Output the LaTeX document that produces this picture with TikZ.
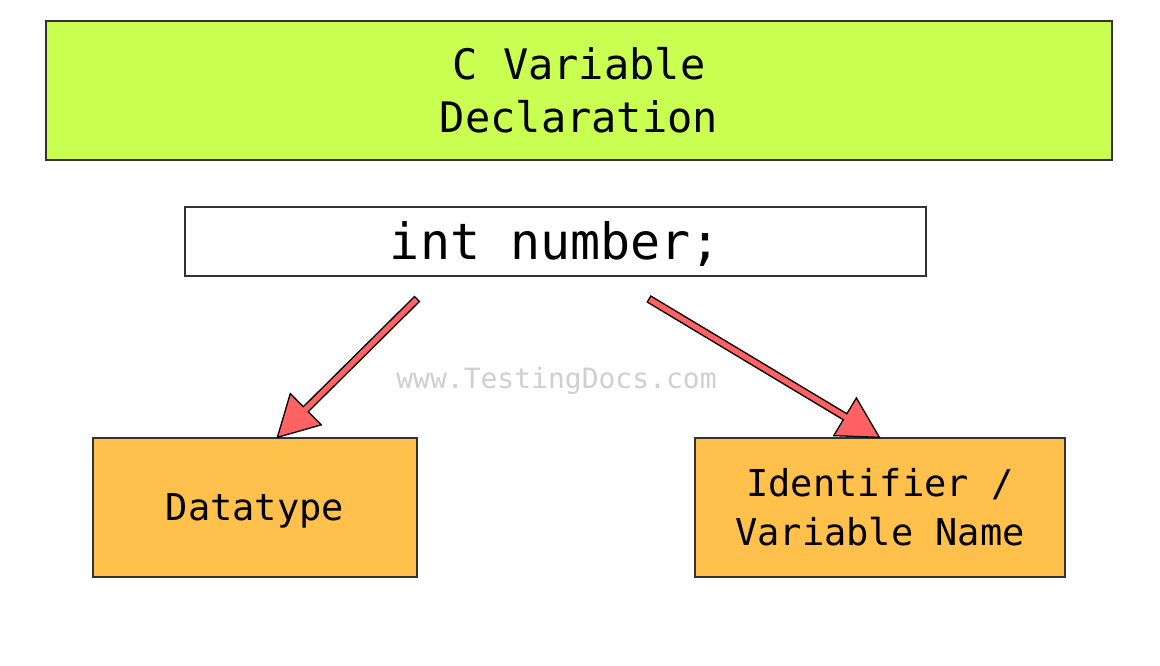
\documentclass[tikz,border=0pt]{standalone}
\usepackage{fontspec}
\setmonofont{DejaVu Sans Mono}
\usetikzlibrary{calc}
\definecolor{boxgreen}{HTML}{C8FF50}
\definecolor{boxorange}{HTML}{FFC04C}
\definecolor{arrowred}{HTML}{FF6262}
\definecolor{wmgray}{HTML}{CFCFCF}
\newcommand\blockarrow[2]{%
  \coordinate (#1b) at ($(#2)!40pt!(#1)$);
  \draw[arrowshape]
    ($(#1)!3.5pt!90:(#2)$) -- ($(#1b)!3.5pt!-90:(#1)$) -- ($(#1b)!22pt!-90:(#1)$) -- (#2)
    -- ($(#1b)!22pt!90:(#1)$) -- ($(#1b)!3.5pt!90:(#1)$) -- ($(#1)!3.5pt!-90:(#2)$) -- cycle;
}
\begin{document}
\begin{tikzpicture}[x=1pt,y=-1pt,font=\ttfamily,
  box/.style={draw=black!80, line width=1.3pt, inner sep=0pt, align=center},
  arrowshape/.style={draw=black, line width=1.3pt, fill=arrowred, line join=miter}]
\useasboundingbox (0,0) rectangle (1160,665);
\fill[white] (0,0) rectangle (1160,665);
\node[box, fill=boxgreen, minimum width=1066pt, minimum height=139pt,
  font=\ttfamily\fontsize{42}{53}\selectfont] (title) at (579,90.5) {C Variable\\Declaration};
\node[box, fill=white, minimum width=741pt, minimum height=69pt, text height=48pt, text depth=11.8pt,
  font=\ttfamily\fontsize{50}{60}\selectfont] (decl) at (555.5,241.5) {int number;};
\node[box, fill=boxorange, minimum width=324pt, minimum height=139pt, text height=35pt, text depth=8.7pt,
  font=\ttfamily\fontsize{37}{49}\selectfont] (dt) at (255,507.5) {Datatype};
\node[box, fill=boxorange, minimum width=370pt, minimum height=139pt,
  font=\ttfamily\fontsize{37}{49}\selectfont] (id) at (880,507.5) {Identifier /\\Variable Name};
\node[text=wmgray, font=\ttfamily\fontsize{28}{32}\selectfont] (wm) at (556.5,381) {www.TestingDocs.com};
\coordinate (s1) at (417,299);
\coordinate (t1) at ($(dt.north west)+(185,0)$);
\coordinate (s2) at (649,299);
\coordinate (t2) at ($(id.north west)+(185,0)$);
\blockarrow{s1}{t1}
\blockarrow{s2}{t2}
\end{tikzpicture}
\end{document}
